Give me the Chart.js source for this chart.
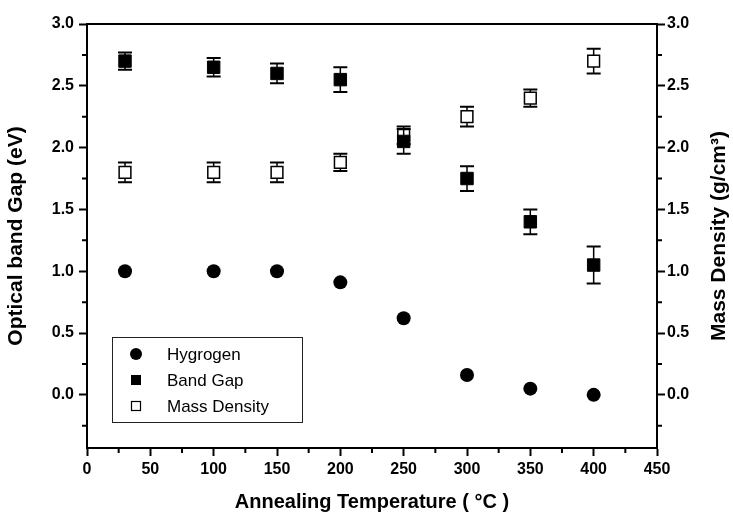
<!DOCTYPE html>
<html>
<head>
<meta charset="utf-8">
<script src="https://cdn.jsdelivr.net/npm/chart.js@4.4.1/dist/chart.umd.min.js"></script>
<style>
  body { margin: 0; background: #ffffff; }
  #wrap { width: 733px; height: 514px; }
</style>
</head>
<body>
<div id="wrap"><canvas id="annealChart" width="733" height="514"></canvas></div>
<script>
// annealing temperatures (°C)
const temps = [30, 100, 150, 200, 250, 300, 350, 400];
// relative hydrogen content
const hydrogen = [1.0, 1.0, 1.0, 0.91, 0.62, 0.16, 0.05, 0.0];
// optical band gap (eV) and its error
const bandGap = [2.70, 2.65, 2.60, 2.55, 2.05, 1.75, 1.40, 1.05];
const bandGapErr = [0.07, 0.075, 0.08, 0.10, 0.10, 0.10, 0.10, 0.15];
// mass density (g/cm3) and its error
const massDensity = [1.80, 1.80, 1.80, 1.88, 2.10, 2.25, 2.40, 2.70];
const massDensityErr = [0.08, 0.08, 0.08, 0.07, 0.07, 0.08, 0.07, 0.10];

const xTicks = [0, 50, 100, 150, 200, 250, 300, 350, 400, 450];
const yTicks = [0.0, 0.5, 1.0, 1.5, 2.0, 2.5, 3.0];

const FONT = '"Liberation Sans", Arial, Helvetica, sans-serif';

function toPoints(ys) {
  return temps.map(function(t, i) { return { x: t, y: ys[i] }; });
}

// vertical error bars with caps, drawn outside the symbol
const errorBarPlugin = {
  id: 'error_bars',
  afterDatasetsDraw: function(chart, args, options) {
    const ctx = chart.ctx;
    const errs = options.errors || {};
    ctx.save();
    ctx.strokeStyle = '#000';
    Object.keys(errs).forEach(function(key) {
      const di = Number(key);
      const ds = chart.data.datasets[di];
      const meta = chart.getDatasetMeta(di);
      const scaleY = chart.scales[ds.yAxisID];
      const half = options.halfSize;
      meta.data.forEach(function(pt, i) {
        const v = ds.data[i].y;
        const e = errs[key][i];
        const yTop = scaleY.getPixelForValue(v + e);
        const yBot = scaleY.getPixelForValue(v - e);
        ctx.lineWidth = 1.5;
        ctx.beginPath();
        if (yTop < pt.y - half) {
          ctx.moveTo(pt.x, yTop);
          ctx.lineTo(pt.x, pt.y - half);
        }
        if (yBot > pt.y + half) {
          ctx.moveTo(pt.x, pt.y + half);
          ctx.lineTo(pt.x, yBot);
        }
        ctx.stroke();
        ctx.lineWidth = 2;
        ctx.beginPath();
        ctx.moveTo(pt.x - 7, yTop);
        ctx.lineTo(pt.x + 7, yTop);
        ctx.moveTo(pt.x - 7, yBot);
        ctx.lineTo(pt.x + 7, yBot);
        ctx.stroke();
      });
    });
    ctx.restore();
  }
};

// top frame line, minor ticks, right axis title and the boxed legend
const framePlugin = {
  id: 'frame_and_legend',
  afterDraw: function(chart) {
    const ctx = chart.ctx;
    const area = chart.chartArea;
    const sx = chart.scales.x;
    const sy = chart.scales.y;
    const sy2 = chart.scales.y2;
    ctx.save();
    ctx.strokeStyle = '#000';
    ctx.lineWidth = 2;
    ctx.beginPath();
    ctx.moveTo(area.left - 1, area.top);
    ctx.lineTo(area.right + 1, area.top);
    ctx.stroke();

    // minor ticks
    ctx.beginPath();
    for (let v = 25; v < 450; v += 50) {
      const px = sx.getPixelForValue(v);
      ctx.moveTo(px, area.bottom);
      ctx.lineTo(px, area.bottom + 5);
    }
    for (let v = -0.25; v < 3.0; v += 0.5) {
      const py = sy.getPixelForValue(v);
      ctx.moveTo(area.left, py);
      ctx.lineTo(area.left - 5, py);
      const py2 = sy2.getPixelForValue(v);
      ctx.moveTo(area.right, py2);
      ctx.lineTo(area.right + 5, py2);
    }
    ctx.stroke();

    // right axis title, read bottom to top
    ctx.fillStyle = '#000';
    ctx.font = 'bold 21px ' + FONT;
    ctx.textAlign = 'center';
    ctx.textBaseline = 'middle';
    ctx.translate(719, (area.top + area.bottom) / 2);
    ctx.rotate(-Math.PI / 2);
    ctx.fillText('Mass Density (g/cm\u00B3)', 0, 0);
    ctx.setTransform(1, 0, 0, 1, 0, 0);

    // legend
    const bx = 112, by = 337, bw = 190, bh = 85;
    ctx.lineWidth = 1;
    ctx.strokeStyle = '#222';
    ctx.strokeRect(bx + 0.5, by + 0.5, bw, bh);
    ctx.font = '17px ' + FONT;
    ctx.textAlign = 'left';
    ctx.textBaseline = 'middle';
    const rows = [354, 380, 406];
    chart.data.datasets.forEach(function(ds, i) {
      const mx = 136, my = rows[i];
      ctx.fillStyle = '#000';
      ctx.strokeStyle = '#000';
      ctx.lineWidth = 1.2;
      if (ds.pointStyle === 'circle') {
        ctx.beginPath();
        ctx.arc(mx, my, 6, 0, Math.PI * 2);
        ctx.fill();
      } else if (ds.backgroundColor === '#000000') {
        ctx.fillRect(mx - 5, my - 5, 10, 10);
      } else {
        ctx.strokeRect(mx - 4.5, my - 4.5, 9, 9);
      }
      ctx.fillStyle = '#000';
      ctx.fillText(ds.label, 167, my + 1);
    });
    ctx.restore();
  }
};

function initChart() {
  Chart.register(errorBarPlugin, framePlugin);
  const ctx = document.getElementById('annealChart');

  const tickFont = { family: FONT, size: 16, weight: 'bold' };

  return new Chart(ctx, {
    type: 'scatter',
    data: {
      datasets: [{
        label: 'Hygrogen',
        data: toPoints(hydrogen),
        yAxisID: 'y',
        pointStyle: 'circle',
        pointRadius: 7,
        backgroundColor: '#000000',
        borderColor: '#000000',
        borderWidth: 0
      }, {
        label: 'Band Gap',
        data: toPoints(bandGap),
        yAxisID: 'y',
        pointStyle: 'rect',
        pointRadius: 8.8,
        backgroundColor: '#000000',
        borderColor: '#000000',
        borderWidth: 1
      }, {
        label: 'Mass Density',
        data: toPoints(massDensity),
        yAxisID: 'y2',
        pointStyle: 'rect',
        pointRadius: 8.3,
        backgroundColor: '#ffffff',
        borderColor: '#000000',
        borderWidth: 1.5
      }]
    },
    options: {
      responsive: false,
      animation: false,
      layout: { padding: { top: 24, left: 0, right: 0, bottom: 0 } },
      scales: {
        x: {
          type: 'linear',
          min: 0,
          max: 450,
          afterBuildTicks: function(scale) {
            scale.ticks = xTicks.map(function(v) { return { value: v }; });
          },
          afterFit: function(scale) { scale.height = 66; },
          grid: { drawOnChartArea: false, tickLength: 8, tickWidth: 2, tickColor: '#000' },
          border: { color: '#000', width: 2 },
          ticks: {
            color: '#000',
            font: tickFont,
            padding: 4,
            maxRotation: 0,
            callback: function(v) { return String(v); }
          },
          title: {
            display: true,
            text: 'Annealing Temperature ( \u00B0C )',
            color: '#000',
            font: { family: FONT, size: 20, weight: 'bold' },
            padding: { top: 0, bottom: 0 }
          }
        },
        y: {
          type: 'linear',
          position: 'left',
          min: -0.43,
          max: 3.0,
          afterBuildTicks: function(scale) {
            scale.ticks = yTicks.map(function(v) { return { value: v }; });
          },
          afterFit: function(scale) { scale.width = 87; },
          grid: { drawOnChartArea: false, tickLength: 8, tickWidth: 2, tickColor: '#000' },
          border: { color: '#000', width: 2 },
          ticks: {
            color: '#000',
            font: tickFont,
            padding: 5,
            callback: function(v) { return v.toFixed(1); }
          },
          title: {
            display: true,
            text: 'Optical band Gap (eV)',
            color: '#000',
            font: { family: FONT, size: 21, weight: 'bold' },
            padding: { top: 4, bottom: 0 }
          }
        },
        y2: {
          type: 'linear',
          position: 'right',
          min: -0.43,
          max: 3.0,
          afterBuildTicks: function(scale) {
            scale.ticks = yTicks.map(function(v) { return { value: v }; });
          },
          afterFit: function(scale) { scale.width = 76; },
          grid: { drawOnChartArea: false, tickLength: 8, tickWidth: 2, tickColor: '#000' },
          border: { color: '#000', width: 2 },
          ticks: {
            color: '#000',
            font: tickFont,
            padding: 2,
            callback: function(v) { return v.toFixed(1); }
          }
        }
      },
      plugins: {
        legend: { display: false },
        tooltip: { enabled: false },
        error_bars: {
          halfSize: 6,
          errors: { 1: bandGapErr, 2: massDensityErr }
        }
      }
    }
  });
}

g_chart = initChart();
</script>
</body>
</html>
